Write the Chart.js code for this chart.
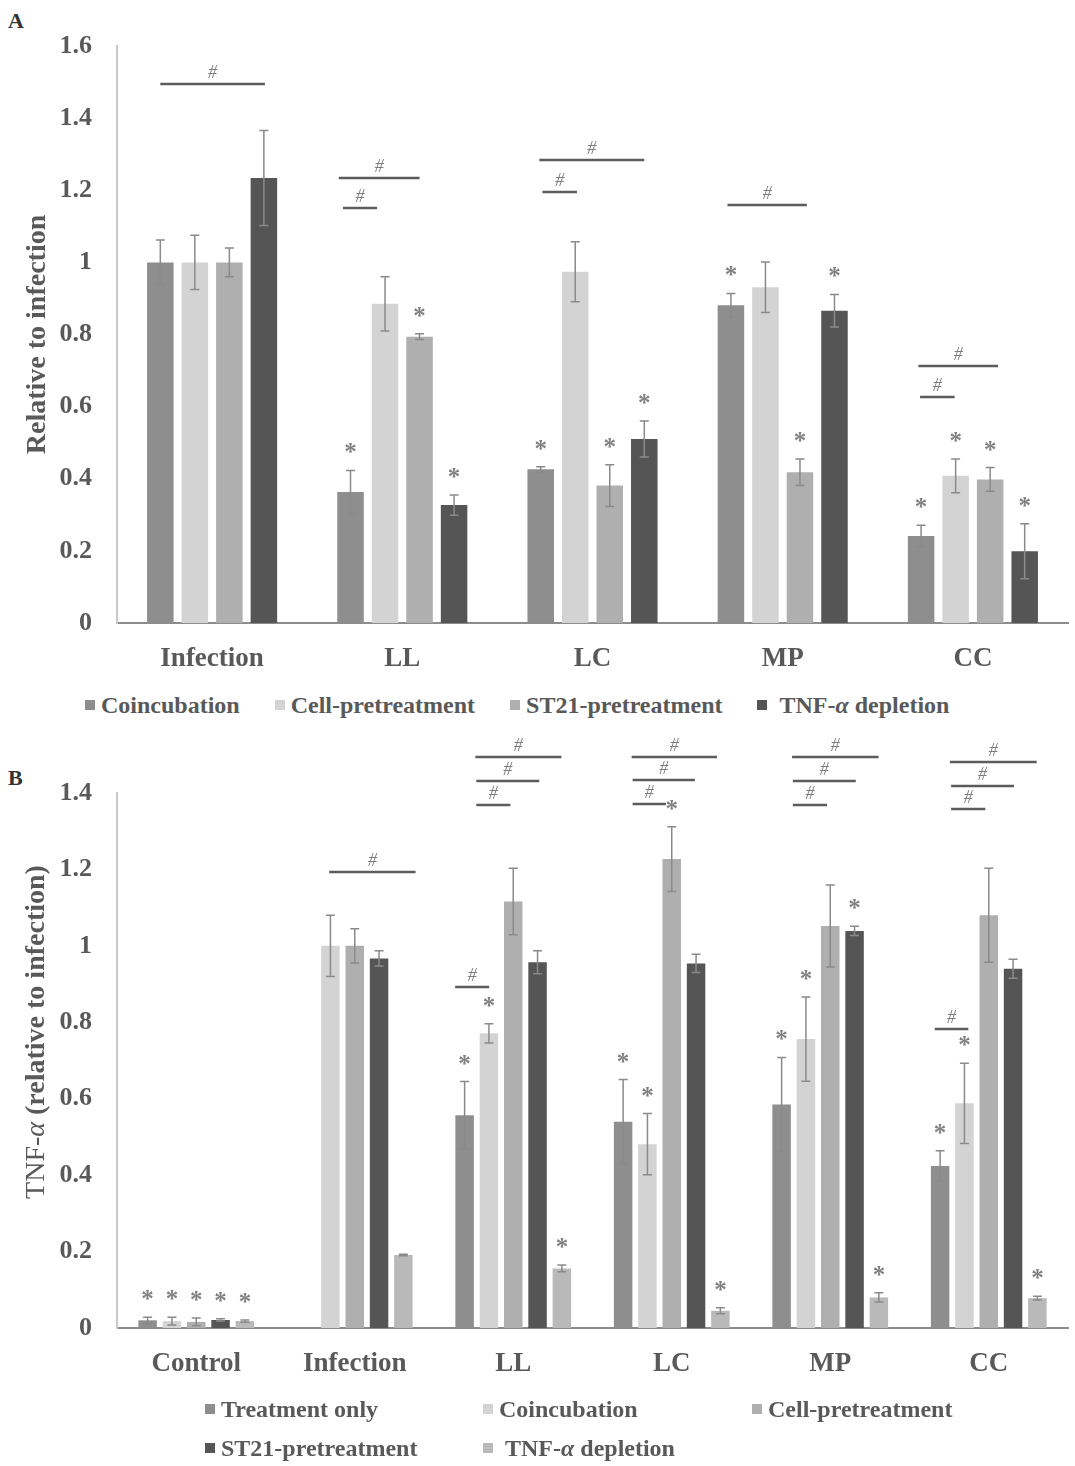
<!DOCTYPE html>
<html>
<head>
<meta charset="utf-8">
<script src="https://cdn.jsdelivr.net/npm/chart.js@4.4.1/dist/chart.umd.min.js"></script>
<style>
  html, body { margin: 0; padding: 0; background: #fff; }
  body { width: 1075px; height: 1466px; position: relative; overflow: hidden;
         font-family: "Liberation Serif", "Times New Roman", serif; }
  .wrap { position: absolute; left: 0; width: 1075px; }
  #wrapA { top: 0; height: 690px; }
  #wrapB { top: 725px; height: 675px; }
  .panel { position: absolute; left: 8px; font-weight: bold; font-size: 22px; color: #333; }
  .legend { position: absolute; color: #595959; font-weight: bold; font-size: 24px; line-height: 26px; white-space: nowrap; }
  .legend .item { display: flex; align-items: center; }
  .legend .box { display: inline-block; width: 10px; height: 10px; margin-right: 6px; }
  #legendA { top: 692px; left: 85px; display: flex; gap: 35px; }
  #legendB { top: 1396px; left: 205px; display: grid; grid-template-columns: 278px 269px auto; row-gap: 13px; }
</style>
</head>
<body>
<div class="panel" style="top:8px">A</div>
<div class="panel" style="top:765px">B</div>
<div id="wrapA" class="wrap"><canvas id="chartA" width="1075" height="690"></canvas></div>
<div id="wrapB" class="wrap"><canvas id="chartB" width="1075" height="675"></canvas></div>
<div id="legendA" class="legend"></div>
<div id="legendB" class="legend"></div>
<script>
// ---------------- Panel A data ----------------
const categoriesA = ['Infection', 'LL', 'LC', 'MP', 'CC'];
const seriesNamesA = ['Coincubation', 'Cell-pretreatment', 'ST21-pretreatment', 'TNF-α depletion'];
const coincA    = [1.000, 0.363, 0.426, 0.881, 0.241];
const errCoincA = [0.062, 0.060, 0.007, 0.033, 0.030];
const cellA     = [1.000, 0.885, 0.974, 0.931, 0.408];
const errCellA  = [0.075, 0.075, 0.083, 0.070, 0.047];
const st21A     = [1.000, 0.794, 0.381, 0.418, 0.398];
const errSt21A  = [0.040, 0.008, 0.058, 0.037, 0.033];
const tnfA      = [1.234, 0.327, 0.510, 0.866, 0.199];
const errTnfA   = [0.132, 0.028, 0.050, 0.045, 0.076];
const yTicksA   = ['0', '0.2', '0.4', '0.6', '0.8', '1', '1.2', '1.4', '1.6'];
// significance marks: [group, dataset]
const starsA = [[1,0],[1,2],[1,3],[2,0],[2,2],[2,3],[3,0],[3,2],[3,3],[4,0],[4,1],[4,2],[4,3]];
// bracket lines: group, from/to (in bar slots from first bar), value level
const sigA = [
  {g:0, from:0.00, to:3.03, v:1.495},
  {g:1, from:-0.34, to:2.00, v:1.234},
  {g:1, from:-0.22, to:0.77, v:1.151},
  {g:2, from:-0.04, to:3.00, v:1.284},
  {g:2, from:0.05, to:1.05, v:1.195},
  {g:3, from:-0.10, to:2.20, v:1.159},
  {g:4, from:-0.08, to:2.23, v:0.713},
  {g:4, from:-0.03, to:0.97, v:0.627}
];

// ---------------- Panel B data ----------------
const categoriesB = ['Control', 'Infection', 'LL', 'LC', 'MP', 'CC'];
const seriesNamesB = ['Treatment only', 'Coincubation', 'Cell-pretreatment', 'ST21-pretreatment', 'TNF-α depletion'];
const treatB     = [0.020, null,  0.557, 0.540, 0.585, 0.424];
const errTreatB  = [0.008, 0,     0.088, 0.110, 0.123, 0.040];
const coincB     = [0.018, 1.000, 0.771, 0.481, 0.756, 0.588];
const errCoincB  = [0.010, 0.080, 0.025, 0.080, 0.110, 0.105];
const cellB      = [0.016, 1.000, 1.116, 1.227, 1.052, 1.080];
const errCellB   = [0.010, 0.045, 0.087, 0.085, 0.107, 0.123];
const st21B      = [0.021, 0.967, 0.957, 0.954, 1.039, 0.940];
const errSt21B   = [0.003, 0.020, 0.030, 0.024, 0.012, 0.025];
const tnfB       = [0.018, 0.191, 0.156, 0.045, 0.080, 0.078];
const errTnfB    = [0.003, 0.002, 0.009, 0.008, 0.012, 0.005];
const yTicksB    = ['0', '0.2', '0.4', '0.6', '0.8', '1', '1.2', '1.4'];
const starsB = [[0,0],[0,1],[0,2],[0,3],[0,4],
                [2,0],[2,1],[2,4],
                [3,0],[3,1],[3,2],[3,4],
                [4,0],[4,1],[4,3],[4,4],
                [5,0],[5,1],[5,4]];
const sigB = [
  {g:1, from:0.95, to:4.50, v:1.194},
  {g:2, from:0.44, to:3.98, v:1.495},
  {g:2, from:0.48, to:3.07, v:1.431},
  {g:2, from:0.48, to:1.88, v:1.368},
  {g:2, from:-0.39, to:1.01, v:0.892},
  {g:3, from:0.35, to:3.86, v:1.495},
  {g:3, from:0.39, to:2.95, v:1.434},
  {g:3, from:0.39, to:1.76, v:1.371},
  {g:4, from:0.43, to:3.99, v:1.493},
  {g:4, from:0.46, to:3.05, v:1.431},
  {g:4, from:0.46, to:1.87, v:1.368},
  {g:5, from:0.40, to:3.97, v:1.482},
  {g:5, from:0.45, to:3.04, v:1.418},
  {g:5, from:0.45, to:1.86, v:1.357},
  {g:5, from:-0.22, to:1.16, v:0.782}
];

// ---------------- styling ----------------
const FONT = "'Liberation Serif', 'Times New Roman', serif";
const TXT = '#595959';
const colorsA = ['#8e8e8e', '#d3d3d3', '#afafaf', '#555555'];
const colorsB = ['#8e8e8e', '#d3d3d3', '#afafaf', '#555555', '#b9b9b9'];

function overlayPlugin(stars, sigs, ytitle) {
  return {
    id: 'overlay',
    afterDatasetsDraw(chart) {
      const ctx = chart.ctx, ys = chart.scales.y;
      const dsets = chart.data.datasets;
      const bx = (d, g) => chart.getDatasetMeta(d).data[g].x;
      ctx.save();
      // error bars
      ctx.strokeStyle = '#8a8a8a';
      ctx.lineWidth = 1.5;
      dsets.forEach((d, di) => {
        d.errors.forEach((e, g) => {
          const v = d.data[g];
          if (v == null || !e) return;
          const x = bx(di, g);
          const t = ys.getPixelForValue(v + e), b = ys.getPixelForValue(Math.max(0, v - e));
          ctx.beginPath();
          ctx.moveTo(x, t); ctx.lineTo(x, b);
          ctx.moveTo(x - 4.5, t); ctx.lineTo(x + 4.5, t);
          ctx.moveTo(x - 4.5, b); ctx.lineTo(x + 4.5, b);
          ctx.stroke();
        });
      });
      // stars
      ctx.fillStyle = '#808080';
      ctx.font = 'bold 25px ' + FONT;
      ctx.textAlign = 'center';
      ctx.textBaseline = 'alphabetic';
      stars.forEach(([g, di]) => {
        const d = dsets[di];
        const t = ys.getPixelForValue(d.data[g] + (d.errors[g] || 0));
        ctx.fillText('*', bx(di, g), t - 22 + 12);
      });
      // significance brackets
      sigs.forEach(s => {
        const slot = bx(2, s.g) - bx(1, s.g);
        const x0 = bx(1, s.g) - slot;
        const xa = x0 + s.from * slot, xb = x0 + s.to * slot;
        const yy = Math.round(ys.getPixelForValue(s.v));
        ctx.strokeStyle = '#5c5c5c';
        ctx.lineWidth = 2.5;
        ctx.beginPath(); ctx.moveTo(xa, yy); ctx.lineTo(xb, yy); ctx.stroke();
        ctx.fillStyle = '#7d7d7d';
        ctx.font = 'italic 18px ' + FONT;
        ctx.fillText('#', (xa + xb) / 2, yy - 6);
      });
      ctx.restore();
      if (ytitle) ytitle(chart);
    }
  };
}

function makeDatasets(names, vals, errs, colors) {
  return names.map((n, i) => ({
    label: n, data: vals[i], errors: errs[i],
    backgroundColor: colors[i], borderWidth: 0
  }));
}

function baseOptions(ticks, max, xHeight, yTitleCfg) {
  return {
    responsive: false,
    animation: false,
    devicePixelRatio: 1,
    layout: { padding: { top: 0, right: 7, left: 0, bottom: 0 } },
    plugins: { legend: { display: false }, tooltip: { enabled: false } },
    scales: {
      x: {
        grid: { display: false, drawTicks: false },
        border: { display: true, color: '#8c8c8c', width: 2 },
        ticks: { color: TXT, padding: 20, font: { family: FONT, size: 27, weight: 'bold' } },
        afterFit: s => { s.height = xHeight; }
      },
      y: {
        min: 0, max: max,
        grid: { display: false, drawTicks: false },
        border: { display: true, color: '#c9c9c9', width: 2 },
        ticks: { stepSize: 0.2, color: TXT, padding: 25,
                 font: { family: FONT, size: 26, weight: 'bold' },
                 callback: (v, i) => ticks[i] },
        title: yTitleCfg,
        afterFit: s => { s.width = 117; }
      }
    }
  };
}

// ----- Chart A -----
const optA = baseOptions(yTicksA, 1.6, 690 - 623,
  { display: true, text: 'Relative to infection', color: TXT,
    font: { family: FONT, size: 28, weight: 'bold' }, padding: { top: 21, bottom: 0 } });
optA.layout.padding.top = 46;
optA.datasets = { bar: { categoryPercentage: 0.726, barPercentage: 0.768 } };
const chartA = new Chart(document.getElementById('chartA'), {
  type: 'bar',
  data: { labels: categoriesA,
          datasets: makeDatasets(seriesNamesA, [coincA, cellA, st21A, tnfA],
                                 [errCoincA, errCellA, errSt21A, errTnfA], colorsA) },
  options: optA,
  plugins: [overlayPlugin(starsA, sigA, null)]
});

// ----- Chart B -----
function drawTitleB(chart) {
  const ctx = chart.ctx;
  const parts = [
    { t: 'TNF-', f: '28px ' + FONT },
    { t: 'α', f: 'italic 28px ' + FONT },
    { t: ' (relative to infection)', f: 'bold 28px ' + FONT }
  ];
  ctx.save();
  let total = 0;
  parts.forEach(p => { ctx.font = p.f; p.w = ctx.measureText(p.t).width; total += p.w; });
  ctx.translate(37, 307);
  ctx.rotate(-Math.PI / 2);
  ctx.fillStyle = TXT;
  ctx.textBaseline = 'middle';
  ctx.textAlign = 'left';
  let x = -total / 2;
  parts.forEach(p => { ctx.font = p.f; ctx.fillText(p.t, x, 0); x += p.w; });
  ctx.restore();
}
const optB = baseOptions(yTicksB, 1.4, 675 - 603, { display: false });
optB.layout.padding.top = 68;
optB.datasets = { bar: { categoryPercentage: 0.767, barPercentage: 0.76 } };
const chartB = new Chart(document.getElementById('chartB'), {
  type: 'bar',
  data: { labels: categoriesB,
          datasets: makeDatasets(seriesNamesB, [treatB, coincB, cellB, st21B, tnfB],
                                 [errTreatB, errCoincB, errCellB, errSt21B, errTnfB], colorsB) },
  options: optB,
  plugins: [overlayPlugin(starsB, sigB, drawTitleB)]
});

// ----- HTML legends built from chart datasets -----
function buildLegend(chart, el) {
  chart.data.datasets.forEach(d => {
    const item = document.createElement('div');
    item.className = 'item';
    const box = document.createElement('span');
    box.className = 'box';
    box.style.background = d.backgroundColor;
    item.appendChild(box);
    const txt = document.createElement('span');
    const lbl = d.label;
    if (lbl.indexOf('α') >= 0) {
      const k = lbl.indexOf('α');
      txt.innerHTML = '&nbsp;' + lbl.slice(0, k) + '<i>α</i>' + lbl.slice(k + 1);
    } else {
      txt.textContent = lbl;
    }
    item.appendChild(txt);
    el.appendChild(item);
  });
}
buildLegend(chartA, document.getElementById('legendA'));
buildLegend(chartB, document.getElementById('legendB'));
</script>
</body>
</html>
